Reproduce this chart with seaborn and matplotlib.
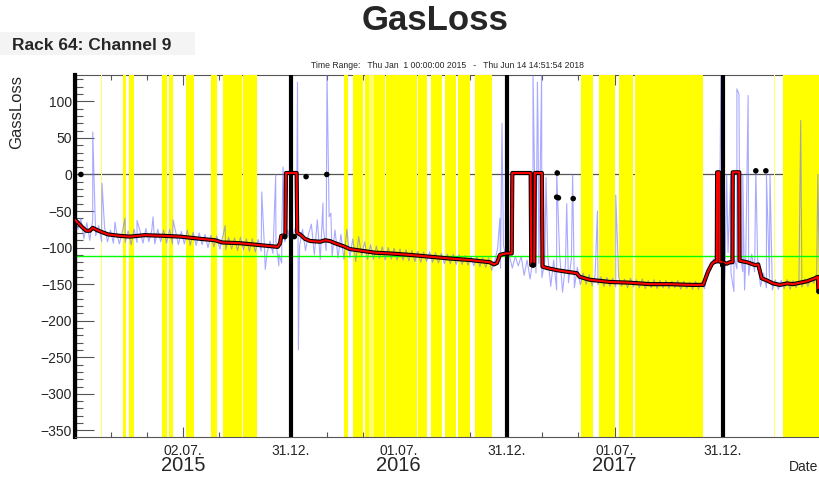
import numpy as np
import pandas as pd
import matplotlib
matplotlib.use("Agg")
import matplotlib.pyplot as plt
import matplotlib.dates as mdates
from matplotlib.patches import Rectangle
import seaborn as sns

# time window
t_start = pd.Timestamp("2015-01-01 00:00:00")
t_end = pd.Timestamp("2018-06-14 14:51:54")

# smoothed gas loss (red), x in days since 2015-01-01
red_days = [0, 5, 12, 19, 25, 30, 37, 46, 56, 76, 93, 118, 152, 178, 212, 237, 249, 279, 305, 330,
            343, 347, 349, 356, 357, 375, 376, 381, 389, 398, 415, 423, 431, 440, 457, 465, 482, 508,
            533, 567, 601, 635, 668, 702, 709, 714, 719, 729, 739, 740, 771, 772, 777, 778, 790, 791,
            799, 816, 832, 849, 854, 871, 905, 939, 973, 1007, 1041, 1063, 1071, 1078, 1083, 1086,
            1086.5, 1090, 1090.5, 1095, 1103, 1108, 1112.5, 1113, 1124, 1124.5, 1137, 1151, 1156,
            1162, 1171, 1181, 1193, 1205, 1215, 1227, 1239, 1252, 1257, 1258, 1260.6]
red_vals = [-62, -66, -72, -77, -77, -73, -76, -79, -82, -84, -85, -83, -84, -85, -88, -90, -93, -94,
            -96, -98, -99, -94, -84, -83, 2, 2, -80, -82, -88, -91, -92, -90, -91, -94, -99, -102,
            -104, -107, -108, -110, -112.5, -115, -117, -120, -123, -121, -110, -108, -108, 2, 2,
            -124, -124, 2, 2, -126, -128, -131, -133, -135, -140, -144, -147, -148, -150, -150, -151,
            -151, -133, -122, -119, -119, 3, 3, -119, -120, -122, -120, -120, 3, 3, -118, -120, -124,
            -123, -142, -145, -149, -151, -149, -150, -148, -146, -142, -140, -160, -160]

# raw readings (blue), one every 5 days
blue_step = 5
blue_vals = [
    -55, -75, -60, -88, -66, -90, -62, -84, -70, -92,
    -72, -92, -76, -94, -78, -95, -79, -93, -77, -96,
    -75, -93, -77, -94, -74, -92, -76, -95, -75, -92,
    -76, -94, -75, -95, -77, -96, -78, -95, -76, -97,
    -79, -97, -80, -96, -82, -100, -83, -99, -84, -102,
    -85, -103, -86, -102, -87, -104, -86, -103, -88, -105,
    -88, -106, -89, -105, -90, -107, -91, -108, -92, -109,
    -78, -92, -76, -96, -80, -68, -98, -75, -104, -82,
    -68, -110, -62, -116, -72, -104, -58, -112, -76, -114,
    -82, -116, -75, -114, -88, -119, -85, -112, -92, -116,
    -96, -116, -98, -115, -99, -117, -100, -116, -101, -117,
    -102, -117, -103, -118, -104, -119, -105, -120, -106, -119,
    -106, -120, -107, -121, -108, -122, -109, -122, -109, -123,
    -110, -123, -111, -124, -112, -125, -113, -126, -114, -127,
    -114, -131, -119, -102, -128, -97, -115, -111, -128, -112,
    -125, -112, -138, -117, -143, -115, -135, -122, -141, -119,
    -112, -153, -117, -158, -109, -161, -122, -148, -115, -155,
    -127, -151, -135, -150, -137, -152, -139, -151, -140, -153,
    -141, -153, -142, -154, -141, -153, -143, -155, -142, -154,
    -144, -155, -143, -156, -145, -155, -144, -156, -145, -155,
    -145, -156, -146, -155, -145, -157, -146, -156, -147, -157,
    -146, -157, -147, -156, -135, -131, -116, -117, -122, -115,
    -131, -107, -135, -112, -129, -105, -133, -113, -138, -109,
    -133, -115, -153, -135, -155, -142, -158, -144, -157, -145,
    -156, -144, -157, -145, -155, -146, -154, -143, -153, -142,
    -149, -135, -160,
]
# spikes in the raw readings
spike_days = [30, 45.7, 67.7, 84.6, 105, 132, 166, 254, 316, 322, 339.6, 345, 349.7, 352, 376.5,
              378, 419.6, 426.4, 433, 719, 722.5, 775, 782.5, 783.5, 789.6, 797, 815, 832, 842, 884,
              915, 1093, 1096.5, 1098, 1102.7, 1109.5, 1115, 1120, 1123.5, 1130, 1133, 1139, 1152,
              1170, 1176, 1228, 1257]
spike_vals = [58, -12, -65, -60, -63, -58, -62, -70, -24, -130, 0, -125, -121, 10, 126, -240, -39,
              140, -53, -60, 70, 140, 126, 67, 140, -4, 6, -40, 0, -50, -28, 140, 140, -165, 0, -2,
              -160, 117, 110, 0, -158, 108, 6, 0, 0, 74, 0]

# isolated black points
dot_days = [10, 355, 371, 391, 426, 775, 815, 816, 818, 843, 1096, 1152, 1169, 1259]
dot_vals = [0, -85, -85, -3, 0, -124, -31, 2, -32, -33, -124, 5, 5, -160]

# yellow periods (start day, end day)
band_start = [80.4, 91.4, 147, 158.5, 187.8, 229.6, 250, 283.8, 455, 470.4, 490.7, 506, 527, 581,
              603, 626, 648, 676, 857, 886.6, 920.5, 947.5, 1198]
band_end = [86.3, 99.8, 155.7, 165.8, 201.4, 239.8, 282.6, 308.5, 462, 486.5, 498, 524.5, 579.5,
            595.6, 621.8, 645.5, 668.4, 705, 877, 912.9, 944.7, 1062, 1262]
pale_start = [44.5, 498, 1183.3]
pale_end = [45.5, 506, 1185]

year_lines = ["2015-01-01 00:00", "2016-01-01 00:00", "2017-01-01 00:00", "2018-01-01 00:00"]
major_dates = ["2015-07-02 12:00", "2016-01-01 00:00", "2016-07-01 12:00", "2017-01-01 00:00",
               "2017-07-02 00:00", "2018-01-01 00:00"]
major_labels = ["02.07.", "31.12.", "01.07.", "31.12.", "01.07.", "31.12."]
year_labels = ["2015", "2016", "2017"]
green_level = -112


def to_date(days):
    return t_start + pd.to_timedelta(np.asarray(days, dtype=float), unit="D")


sns.set_style("ticks")
plt.rcParams["font.family"] = ["Liberation Sans", "DejaVu Sans"]

fig = plt.figure(figsize=(8.2, 4.78), dpi=100)
ax = fig.add_axes([75 / 820, 41 / 478, 745 / 820, 362 / 478])

blue_days = np.arange(len(blue_vals)) * blue_step
blue_df = pd.DataFrame({"Date": to_date(list(blue_days) + spike_days),
                        "GasLoss": blue_vals + spike_vals}).sort_values("Date")
red_df = pd.DataFrame({"Date": to_date(red_days), "GasLoss": red_vals})
dot_df = pd.DataFrame({"Date": to_date(dot_days), "GasLoss": dot_vals})

ax.axhline(0, color="#555555", lw=0.9, zorder=0.6)
for a, b in zip(band_start, band_end):
    ax.axvspan(to_date([a])[0], to_date([b])[0], color="#ffff00", lw=0, zorder=1)
for a, b in zip(pale_start, pale_end):
    ax.axvspan(to_date([a])[0], to_date([b])[0], color="#ffff66", lw=0, zorder=1)

sns.lineplot(data=blue_df, x="Date", y="GasLoss", estimator=None, color="#7070ff",
             alpha=0.6, lw=0.8, zorder=2, ax=ax)
ax.axhline(green_level, color="#00ff00", lw=1.0, zorder=2.2)
for d in year_lines:
    ax.axvline(pd.Timestamp(d), color="black", lw=3, zorder=2.5)
sns.lineplot(data=red_df, x="Date", y="GasLoss", estimator=None, sort=False, color="black",
             lw=3.0, zorder=3, ax=ax)
sns.lineplot(data=red_df, x="Date", y="GasLoss", estimator=None, sort=False, color="red",
             lw=1.5, zorder=3.5, ax=ax)
sns.scatterplot(data=dot_df, x="Date", y="GasLoss", color="black", s=16, edgecolor="none",
                zorder=4, ax=ax)

ax.set_xlabel("")
ax.set_ylabel("")
ax.set_axisbelow(True)

# axis ticks
ax.set_yticks(np.arange(-350, 101, 50))
ax.set_yticks(np.arange(-350, 131, 10), minor=True)
ax.set_yticklabels([f"{v:d}".replace("-", "\u2212") for v in range(-350, 101, 50)])
major_num = mdates.date2num(pd.to_datetime(major_dates, format="%Y-%m-%d %H:%M"))
step = (major_num[1] - major_num[0]) / 3
minor_num = major_num[0] + step * np.arange(-2, 16)
minor_num = minor_num[minor_num < mdates.date2num(t_end)]
ax.set_xticks(major_num)
ax.set_xticklabels(major_labels)
ax.set_xticks(minor_num, minor=True)
ax.set_xlim(t_start, t_end)
ax.set_ylim(-359, 136)

ax.tick_params(axis="y", which="major", direction="in", length=14, width=0.8, color="#555555",
               labelsize=10, pad=2)
ax.tick_params(axis="y", which="minor", direction="in", length=6, width=0.8, color="#555555")
ax.tick_params(axis="x", which="major", direction="in", length=7, width=0.8, color="#555555",
               labelsize=10, pad=5, top=True)
ax.tick_params(axis="x", which="minor", direction="in", length=3.6, width=0.8, color="#555555",
               top=True)

ax.spines["right"].set_visible(False)
ax.spines["left"].set_linewidth(3)
ax.spines["left"].set_color("black")
for s in ["top", "bottom"]:
    ax.spines[s].set_linewidth(0.8)
    ax.spines[s].set_color("#555555")
ax.spines["top"].set_zorder(0.5)

for lab, pos in zip(year_labels, major_num[0::2]):
    ax.text(pos, -0.08, lab, transform=ax.get_xaxis_transform(), ha="center", va="center",
            fontsize=14.5)

fig.patches.append(Rectangle((0, 1 - 55 / 478), 195 / 820, 23 / 478, transform=fig.transFigure,
                             facecolor="#f4f4f4", edgecolor="none"))
fig.text(12 / 820, 1 - 45 / 478, "Rack 64: Channel 9", fontsize=12.5, fontweight="bold",
         ha="left", va="center")
fig.text(435 / 820, 1 - 21 / 478, "GasLoss", fontsize=25, fontweight="bold", ha="center",
         va="center")
fig.text(447 / 820, 1 - 65 / 478,
         "Time Range:   Thu Jan  1 00:00:00 2015   -   Thu Jun 14 14:51:54 2018",
         fontsize=6.2, ha="center", va="center")
fig.text(17 / 820, 1 - 75 / 478, "GassLoss", rotation=90, fontsize=12, ha="center", va="top")
fig.text(818 / 820, 1 - 467 / 478, "Date", fontsize=10, ha="right", va="center")

plt.savefig("out.png", dpi=100)
